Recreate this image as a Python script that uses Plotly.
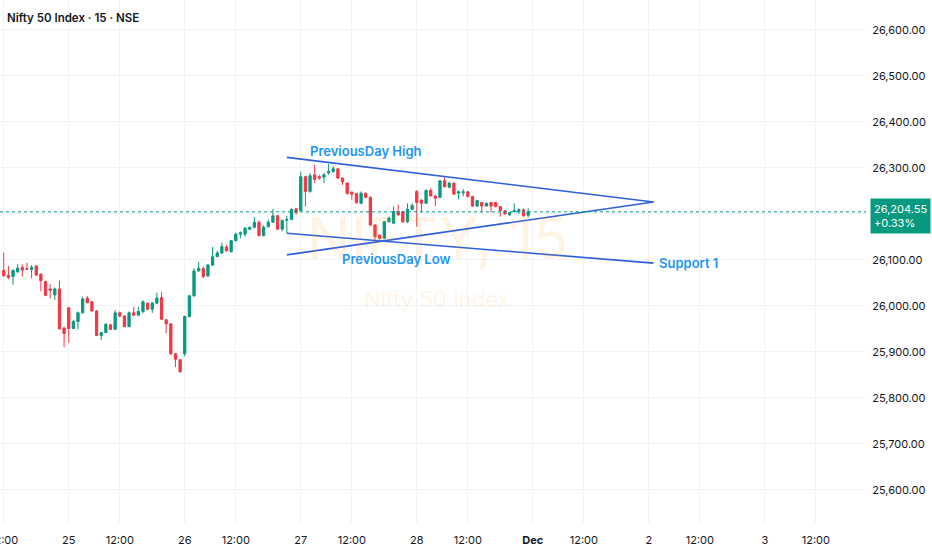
import plotly.graph_objects as go

# 15-minute candles, Nifty 50 Index, from Nov 24 12:00 to Nov 28 close
opens = [
    26077, 26066, 26064, 26074, 26084, 26081, 26079, 26087, 26069, 26053, 26037, 26024, 26037, 25952,
    25996, 25951, 25966, 25985, 26017, 26009, 25989, 25936, 25942, 25959, 25949, 25985, 25978, 25955,
    25985, 25980, 25988, 26006, 25993, 26006, 26018, 25970, 25961, 25896, 25883,
    25896, 25977, 26022, 26076, 26081, 26065, 26089, 26107, 26115, 26128, 26118, 26142, 26156, 26156,
    26167, 26171, 26182, 26153, 26172, 26182, 26196, 26167, 26186, 26188, 26211,
    26207, 26281, 26249, 26285, 26281, 26280, 26289, 26292, 26298, 26278, 26267, 26247, 26244, 26223,
    26245, 26236, 26176, 26154, 26147, 26183, 26180, 26205, 26205, 26183, 26210,
    26249, 26230, 26223, 26251, 26239, 26236, 26272, 26258, 26267, 26245, 26246, 26248, 26238, 26217,
    26225, 26217, 26225, 26225, 26216, 26207, 26198, 26205, 26205, 26209, 26197,
]
highs = [
    26116, 26087, 26080, 26091, 26090, 26094, 26089, 26088, 26071, 26055, 26047, 26040, 26055, 25955,
    25998, 25970, 25988, 26020, 26022, 26011, 25991, 25943, 25962, 25961, 25991, 25988, 25980, 25988,
    25998, 25998, 26012, 26007, 26009, 26029, 26030, 25971, 25962, 25897, 25884,
    25979, 26024, 26082, 26096, 26086, 26091, 26128, 26120, 26138, 26133, 26143, 26159, 26162, 26171,
    26172, 26193, 26186, 26175, 26188, 26211, 26198, 26187, 26196, 26212, 26212,
    26292, 26283, 26289, 26307, 26285, 26289, 26309, 26304, 26299, 26279, 26268, 26249, 26245, 26249,
    26247, 26238, 26178, 26156, 26185, 26194, 26216, 26220, 26207, 26223, 26223,
    26251, 26232, 26254, 26256, 26241, 26274, 26281, 26270, 26268, 26251, 26254, 26249, 26239, 26230,
    26226, 26225, 26226, 26226, 26217, 26208, 26204, 26223, 26212, 26212, 26212,
]
lows = [
    26063, 26058, 26046, 26072, 26064, 26078, 26060, 26065, 26032, 26021, 26016, 26013, 25950, 25910,
    25920, 25950, 25949, 25984, 26006, 25988, 25935, 25926, 25941, 25948, 25948, 25975, 25954, 25954,
    25978, 25978, 25984, 25991, 25985, 26004, 25970, 25941, 25894, 25867, 25855,
    25890, 25975, 26020, 26075, 26060, 26064, 26087, 26106, 26113, 26118, 26116, 26140, 26147, 26151,
    26164, 26169, 26151, 26151, 26171, 26181, 26165, 26162, 26158, 26187, 26198,
    26205, 26216, 26246, 26267, 26274, 26267, 26285, 26290, 26276, 26263, 26241, 26231, 26222, 26222,
    26234, 26173, 26144, 26144, 26145, 26181, 26178, 26196, 26181, 26180, 26209,
    26172, 26203, 26222, 26238, 26217, 26234, 26258, 26256, 26241, 26232, 26238, 26236, 26216, 26216,
    26203, 26216, 26203, 26214, 26194, 26199, 26196, 26203, 26200, 26194, 26193,
]
closes = [
    26066, 26062, 26077, 26082, 26078, 26080, 26084, 26067, 26055, 26023, 26034, 26037, 25950, 25940,
    25951, 25966, 25985, 26015, 26007, 25989, 25936, 25942, 25960, 25949, 25985, 25978, 25955, 25985,
    25980, 25988, 26009, 25993, 26006, 26017, 25971, 25961, 25896, 25884, 25857,
    25977, 26022, 26076, 26082, 26064, 26089, 26107, 26115, 26129, 26120, 26142, 26156, 26159, 26169,
    26171, 26182, 26153, 26171, 26182, 26196, 26167, 26186, 26188, 26210, 26203,
    26281, 26249, 26283, 26275, 26278, 26285, 26292, 26298, 26278, 26270, 26245, 26243, 26225, 26245,
    26236, 26176, 26151, 26147, 26183, 26191, 26205, 26198, 26183, 26210, 26218,
    26225, 26223, 26251, 26239, 26234, 26272, 26259, 26267, 26243, 26248, 26248, 26238, 26217, 26229,
    26217, 26223, 26217, 26216, 26207, 26200, 26203, 26207, 26209, 26196, 26204.55,
]
change_pct = 0.33

# time axis labels (bar index of each label)
tick_bars = [0, 14, 25, 39, 50, 64, 75, 89, 100, 114, 125, 139, 150, 164, 175]
tick_labels = ["12:00", "25", "12:00", "26", "12:00", "27", "12:00", "28", "12:00",
               "<b>Dec</b>", "12:00", "2", "12:00", "3", "12:00"]

# drawn trend lines: bar index -> price
line_bars = [61, 140]
prev_high_line = [26323, 26226]
prev_low_line = [26111, 26226]
support_line = [26158, 26093]

bars = list(range(len(closes)))
last_close = closes[-1]

GREEN = "#089981"
RED = "#F23645"
LINE_BLUE = "#2f5fdc"
TEXT_BLUE = "#2196F3"
GRID = "#f2f3f6"

fig = go.Figure()

fig.add_trace(go.Candlestick(
    x=bars, open=opens, high=highs, low=lows, close=closes,
    increasing=dict(line=dict(color=GREEN, width=1), fillcolor=GREEN),
    decreasing=dict(line=dict(color=RED, width=1), fillcolor=RED),
    whiskerwidth=0,
    hoverinfo="skip",
))

for ys in (prev_high_line, prev_low_line, support_line):
    fig.add_trace(go.Scatter(
        x=line_bars, y=ys, mode="lines",
        line=dict(color=LINE_BLUE, width=1.6),
        hoverinfo="skip",
    ))

# last price dotted line
fig.add_shape(type="line", xref="paper", x0=0, x1=1, y0=last_close, y1=last_close,
              line=dict(color=GREEN, width=1, dash="dot"))

label_font = dict(family="Inter", size=13, color=TEXT_BLUE, weight=600)
annotations = [
    # watermark
    dict(text="NIFTY, 15", xref="paper", yref="paper", x=0.505, y=0.545,
         showarrow=False, font=dict(family="Inter", size=58, color="rgba(255,152,0,0.11)")),
    dict(text="Nifty 50 Index", xref="paper", yref="paper", x=0.505, y=0.43,
         showarrow=False, font=dict(family="Inter", size=22, color="rgba(255,152,0,0.11)")),
    # title
    dict(text="Nifty 50 Index · 15 · NSE", xref="paper", yref="paper", x=0, y=1,
         xanchor="left", yanchor="top", xshift=5, yshift=-9, showarrow=False,
         font=dict(family="Inter", size=11.5, color="#131722", weight=600)),
    # first time label, partly outside the left edge (plotly drops it as a tick)
    dict(text=tick_labels[0], x=tick_bars[0], xref="x", yref="paper", y=0,
         yanchor="top", yshift=-7, showarrow=False,
         font=dict(family="Inter", size=11, color="#131722")),
    # drawing labels
    dict(text="PreviousDay High", x=78, y=26337, showarrow=False, font=label_font),
    dict(text="PreviousDay Low", x=84.5, y=26102, showarrow=False, font=label_font),
    dict(text="Support 1", x=140.8, y=26093, xanchor="left", showarrow=False, font=label_font),
    # last price box
    dict(text=f"{last_close:,.2f}<br>+{change_pct:.2f}%", xref="paper", x=1, y=last_close,
         xanchor="left", yanchor="middle", xshift=4, yshift=-4, align="left",
         showarrow=False, bgcolor=GREEN, borderpad=3,
         font=dict(family="Inter", size=11, color="white")),
]

fig.update_layout(
    width=932, height=550,
    margin=dict(l=0, r=66, t=0, b=26),
    plot_bgcolor="white", paper_bgcolor="white",
    showlegend=False,
    font=dict(family="Inter", size=11, color="#131722"),
    annotations=annotations,
    xaxis=dict(
        range=[-0.81, 185.8],
        tickmode="array", tickvals=tick_bars, ticktext=tick_labels,
        showgrid=True, gridcolor=GRID, zeroline=False, showline=False,
        ticks="outside", ticklen=6, tickcolor="rgba(0,0,0,0)",
        rangeslider=dict(visible=False),
    ),
    yaxis=dict(
        side="right", range=[25526, 26665],
        tick0=0, dtick=100, tickformat=",.2f",
        showgrid=True, gridcolor=GRID, zeroline=False, showline=False,
        ticks="outside", ticklen=3, tickcolor="rgba(0,0,0,0)",
    ),
)

# page margin off so the figure sits at the window's top-left corner
fig.write_html("out.html", config={"displayModeBar": False},
               post_script="document.body.style.margin='0';")
